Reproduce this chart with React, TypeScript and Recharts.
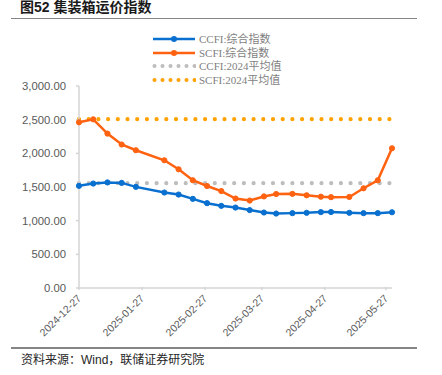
import React from 'react';
import { LineChart, Line, XAxis, YAxis } from 'recharts';

// weekly index values (CCFI / SCFI)
const dates = [
  '2024-12-27', '2025-01-03', '2025-01-10', '2025-01-17', '2025-01-24', '2025-02-07',
  '2025-02-14', '2025-02-21', '2025-02-28', '2025-03-07', '2025-03-14', '2025-03-21',
  '2025-03-28', '2025-04-03', '2025-04-11', '2025-04-18', '2025-04-25', '2025-04-30',
  '2025-05-09', '2025-05-16', '2025-05-23', '2025-05-30',
];
const ccfi = [
  1517, 1551, 1568, 1561, 1502, 1418, 1388, 1324, 1260, 1220, 1195, 1157,
  1121, 1106, 1112, 1117, 1127, 1129, 1117, 1112, 1112, 1125,
];
const scfi = [
  2461, 2505, 2293, 2131, 2046, 1897, 1763, 1600, 1515, 1440, 1329, 1299,
  1360, 1396, 1398, 1377, 1356, 1349, 1352, 1481, 1600, 2075,
];
const ccfiAvg2024 = 1557;
const scfiAvg2024 = 2508;
const tickDates = ['2024-12-27', '2025-01-27', '2025-02-27', '2025-03-27', '2025-04-27', '2025-05-27'];
const yTicks = [0, 500, 1000, 1500, 2000, 2500, 3000];

const toTs = (d: string) => Date.parse(d + 'T00:00:00Z');
const fmtDate = (t: number) => new Date(t).toISOString().slice(0, 10);

const data = dates.map((d, i) => ({
  t: toTs(d),
  ccfi: ccfi[i],
  scfi: scfi[i],
  ccfiAvg: ccfiAvg2024,
  scfiAvg: scfiAvg2024,
}));

const BLUE = '#0a70d0';
const ORANGE = '#ff6210';
const GRAY_DOT = '#bdbdbd';
const ORANGE_DOT = '#ffa200';
const AXIS = '#d4d4d4';
const TEXT = '#595959';

const XTick = (props: any) => {
  const { x, y, payload } = props;
  return (
    <g>
      <line x1={x} y1={y} x2={x} y2={y - 3} stroke={AXIS} strokeWidth={1.5} />
      <text
        x={x + 3}
        y={y + 9}
        transform={`rotate(-45, ${x + 3}, ${y + 9})`}
        textAnchor="end"
        fontSize={10.5}
        fontFamily="Liberation Sans, Arial, sans-serif"
        fill={TEXT}
      >
        {fmtDate(payload.value)}
      </text>
    </g>
  );
};

const legendItems = [
  { label: 'CCFI:综合指数', color: BLUE, kind: 'line' },
  { label: 'SCFI:综合指数', color: ORANGE, kind: 'line' },
  { label: 'CCFI:2024平均值', color: GRAY_DOT, kind: 'dots' },
  { label: 'SCFI:2024平均值', color: ORANGE_DOT, kind: 'dots' },
];

const LegendBox = () => (
  <div style={{ position: 'absolute', left: 152, top: 32, display: 'flex', flexDirection: 'column' }}>
    {legendItems.map((it) => (
      <div key={it.label} style={{ display: 'flex', alignItems: 'center', height: 13.7 }}>
        <svg width={44} height={10} style={{ marginRight: 3 }}>
          {it.kind === 'line' ? (
            <g>
              <line x1={1} y1={5} x2={43} y2={5} stroke={it.color} strokeWidth={2.5} />
              <circle cx={22} cy={5} r={3} fill={it.color} />
            </g>
          ) : (
            <g>
              {[0, 1, 2, 3, 4, 5].map((k) => (
                <circle key={k} cx={2.5 + k * 8} cy={5} r={2} fill={it.color} />
              ))}
            </g>
          )}
        </svg>
        <span
          style={{
            fontSize: 11,
            fontFamily: '"Liberation Serif", "Noto Sans CJK SC", serif',
            color: '#7f7f7f',
            lineHeight: '12px',
            whiteSpace: 'nowrap',
          }}
        >
          {it.label}
        </span>
      </div>
    ))}
  </div>
);

export default function App() {
  return (
    <div style={{ position: 'absolute', left: 0, top: 0, width: 442, height: 375, background: '#fff' }}>
      <div
        style={{
          position: 'absolute',
          left: 20,
          top: -4,
          fontSize: 14,
          fontWeight: 700,
          fontFamily: '"Liberation Sans", "Noto Sans CJK SC", sans-serif',
          color: '#1a1a1a',
          whiteSpace: 'nowrap',
        }}
      >
        图52 集装箱运价指数
      </div>
      <div style={{ position: 'absolute', left: 11, top: 17.5, width: 406, height: 1.6, background: '#858585' }} />

      <LineChart width={442} height={375} data={data} margin={{ top: 86, right: 50, bottom: 0, left: 0 }}>
        <XAxis
          dataKey="t"
          type="number"
          scale="time"
          domain={[toTs('2024-12-27'), toTs('2025-05-30')]}
          ticks={tickDates.map(toTs)}
          tick={<XTick />}
          tickLine={false}
          tickSize={0}
          height={87}
          interval={0}
          axisLine={{ stroke: AXIS, strokeWidth: 1.5 }}
        />
        <YAxis
          domain={[0, 3000]}
          ticks={yTicks}
          width={79}
          tickSize={3}
          tickMargin={10}
          tickLine={{ stroke: AXIS, strokeWidth: 1.5 }}
          axisLine={{ stroke: AXIS, strokeWidth: 1.5 }}
          tick={{ fontSize: 11.3, fill: TEXT, fontFamily: 'Liberation Sans, Arial, sans-serif' }}
          tickFormatter={(v: number) =>
            v.toLocaleString('en-US', { minimumFractionDigits: 2, maximumFractionDigits: 2 })
          }
        />
        <Line
          dataKey="ccfiAvg"
          stroke={GRAY_DOT}
          strokeWidth={4.2}
          strokeDasharray="0 9.7"
          strokeLinecap="round"
          dot={false}
          activeDot={false}
          isAnimationActive={false}
        />
        <Line
          dataKey="scfiAvg"
          stroke={ORANGE_DOT}
          strokeWidth={4.2}
          strokeDasharray="0 9.7"
          strokeLinecap="round"
          dot={false}
          activeDot={false}
          isAnimationActive={false}
        />
        <Line
          dataKey="ccfi"
          stroke={BLUE}
          strokeWidth={2.5}
          dot={{ r: 2.6, fill: BLUE, stroke: BLUE, strokeWidth: 1 }}
          isAnimationActive={false}
        />
        <Line
          dataKey="scfi"
          stroke={ORANGE}
          strokeWidth={2.5}
          dot={{ r: 2.6, fill: ORANGE, stroke: ORANGE, strokeWidth: 1 }}
          isAnimationActive={false}
        />
      </LineChart>

      <LegendBox />

      <div style={{ position: 'absolute', left: 11, top: 347, width: 406, height: 1.6, background: '#858585' }} />
      <div
        style={{
          position: 'absolute',
          left: 21,
          top: 350,
          fontSize: 12,
          fontFamily: '"Liberation Sans", "Noto Sans CJK SC", sans-serif',
          color: '#262626',
          whiteSpace: 'nowrap',
        }}
      >
        资料来源：Wind，联储证券研究院
      </div>
    </div>
  );
}
